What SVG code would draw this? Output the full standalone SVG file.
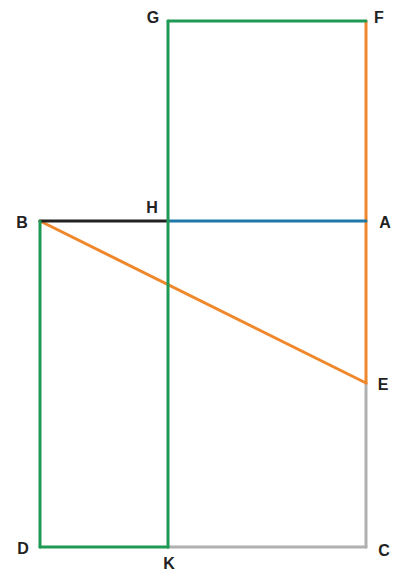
<svg xmlns="http://www.w3.org/2000/svg" width="398" height="571" viewBox="0 0 398 571">
<style>
.l{fill:none;stroke-width:3;stroke-linecap:round;stroke-linejoin:round}
.g{stroke:#1f9a55}.o{stroke:#f0872a}.b{stroke:#1f79a8}.k{stroke:#222}.s{stroke:#b0b0b0}
text{font-family:"Liberation Sans",Arial,sans-serif;font-weight:bold;font-size:16px;fill:#222;text-anchor:middle}
</style>
<rect width="398" height="571" fill="#fff"/>
<g id="connectors">
<line class="l s" x1="366" y1="383" x2="366" y2="547"/>
<line class="l s" x1="168" y1="547" x2="366" y2="547"/>
<line class="l o" x1="366" y1="21" x2="366" y2="383"/>
<line class="l o" x1="40" y1="221" x2="366" y2="383"/>
<line class="l k" x1="40" y1="221" x2="168" y2="221"/>
<line class="l b" x1="168" y1="221" x2="366" y2="221"/>
<line class="l g" x1="168" y1="21" x2="366" y2="21"/>
<line class="l g" x1="168" y1="21" x2="168" y2="547"/>
<line class="l g" x1="40" y1="221" x2="40" y2="547"/>
<line class="l g" x1="40" y1="547" x2="168" y2="547"/>
</g>
<g id="G"><text x="153" y="23">G</text></g>
<g id="F"><text x="379" y="23">F</text></g>
<g id="H"><text x="152" y="213">H</text></g>
<g id="B"><text x="22" y="228">B</text></g>
<g id="A"><text x="385" y="228">A</text></g>
<g id="E"><text x="383" y="390">E</text></g>
<g id="D"><text x="23" y="554">D</text></g>
<g id="K"><text x="169" y="569">K</text></g>
<g id="C"><text x="384" y="556">C</text></g>
</svg>
